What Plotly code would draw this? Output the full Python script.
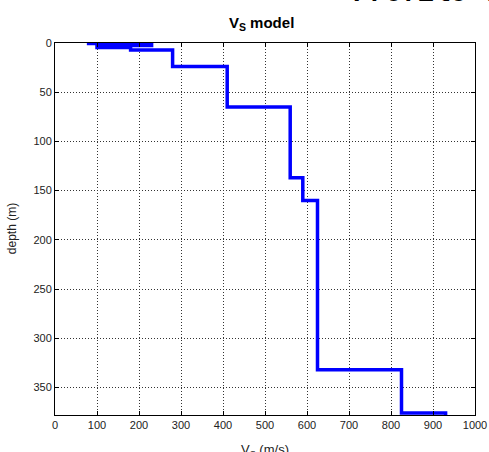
import plotly.graph_objects as go

# Layered Vs model: shear-wave velocity (m/s) and top depth (m) of each layer
vs_values = [80, 230, 100, 180, 280, 410, 560, 590, 625, 825, 930]
layer_tops = [0, 0.5, 2.5, 4.5, 7, 24, 65, 137, 160, 332, 376]
halfspace_bottom = 380

x_ticks = [0, 100, 200, 300, 400, 500, 600, 700, 800, 900, 1000]
y_ticks = [0, 50, 100, 150, 200, 250, 300, 350]

xs, ys = [], []
for i, v in enumerate(vs_values):
    bot = layer_tops[i + 1] if i + 1 < len(layer_tops) else halfspace_bottom
    xs += [v, v]
    ys += [layer_tops[i], bot]

fig = go.Figure(go.Scatter(x=xs, y=ys, mode="lines",
                           line=dict(color="#0000ff", width=3.5),
                           showlegend=False, hoverinfo="skip"))

tickfont = dict(family="Liberation Sans, Arial, sans-serif", size=11, color="#222222")
axis_common = dict(ticks="inside", ticklen=4, tickcolor="#000000", tickwidth=1,
                   showline=True, linecolor="#000000", linewidth=1, mirror="ticks",
                   showgrid=True, gridcolor="#333333", gridwidth=1, griddash="1px,2px",
                   zeroline=False, tickfont=tickfont, automargin=False)

fig.update_xaxes(range=[0, 1000], tickvals=x_ticks, ticktext=[str(t) for t in x_ticks],
                 **axis_common)
fig.update_yaxes(range=[378, 0], tickvals=y_ticks, ticktext=[str(t) for t in y_ticks],
                 **axis_common)

fig.update_layout(
    width=489, height=452,
    margin=dict(l=55, r=14, t=43, b=37, pad=0, autoexpand=False),
    paper_bgcolor="white", plot_bgcolor="white",
    title=dict(text="<b>V<sub>S</sub> model</b>", x=0.535, xanchor="center",
               y=1 - 23 / 452, yanchor="middle",
               font=dict(family="Liberation Sans, Arial, sans-serif", size=15, color="#000000")),
    annotations=[
        dict(text="V<sub>S</sub> (m/s)", xref="paper", yref="paper", x=0.5, y=-0.068,
             xanchor="center", yanchor="top", showarrow=False,
             font=dict(family="Liberation Sans, Arial, sans-serif", size=13, color="#222222")),
        dict(text="depth (m)", xref="paper", yref="paper", x=-0.102, y=0.5,
             xanchor="center", yanchor="middle", textangle=-90, showarrow=False,
             font=dict(family="Liberation Sans, Arial, sans-serif", size=12, color="#222222")),
        dict(text="<b>Profile V<sub>S</sub></b>", xref="paper", yref="paper", x=0.705, y=1.075,
             xanchor="left", yanchor="bottom", showarrow=False,
             font=dict(family="Liberation Mono, Courier New, monospace", size=27, color="#000000")),
    ],
)

fig.write_html("out.html", config={"displayModeBar": False})
